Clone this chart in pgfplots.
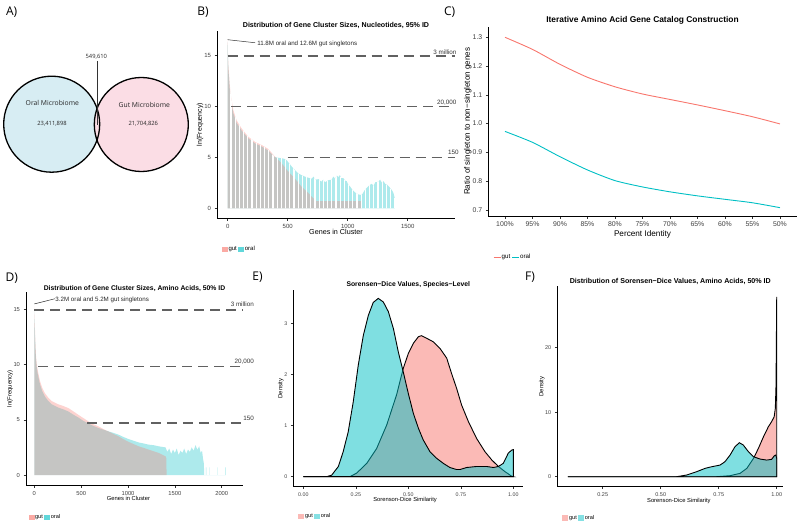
\documentclass[border=0pt]{standalone}
\usepackage{fontspec}
\setmainfont{Liberation Sans}
\newfontfamily\myriad{Open Sans}
\usepackage{pgfplots}
\pgfplotsset{compat=1.18}
\usetikzlibrary{patterns.meta}

\definecolor{gut}{HTML}{F8766D}
\definecolor{oral}{HTML}{00BFC4}
\definecolor{vennblue}{HTML}{D7EDF3}
\definecolor{vennpink}{HTML}{FBDDE5}
\newcommand{\fs}[1]{\fontsize{#1}{#1}\selectfont}

\tikzset{hlab/.style={anchor=base east, inner sep=0pt, font=\fs{6.3}, text=black!80}}
\pgfplotsset{
  panel/.style={
    scale only axis, anchor=south west,
    axis lines*=left,
    axis line style={line width=0.9pt},
    tick align=outside, major tick length=2.5pt,
    tick style={line width=0.6pt, black!80},
    ticklabel style={text=black!75},
    /pgf/number format/assume math mode=true,
    /pgf/number format/1000 sep={},
    title style={anchor=base, at={(0.5,1)}},
    legend style={draw=none, fill=none, inner sep=0pt, legend columns=2,
      /tikz/every even column/.append style={column sep=0.8pt},
      nodes={inner sep=0.6pt}, cells={anchor=west}},
    legend image code/.code={\fill[#1] (0pt,-2.6pt) rectangle (6pt,2.6pt);},
    clip=false,
  },
  hline/.style={black!62, line width=1.5pt, dash pattern=on 10pt off 6pt},
  bars/.style={draw=none, fill opacity=0.32, forget plot},
  dens/.style={draw=black, line width=0.9pt, fill opacity=0.5, forget plot},
}

\begin{document}
\begin{tikzpicture}
\useasboundingbox (0,0) rectangle (800pt,-527pt);

% panel letters
\begin{scope}[every node/.style={font=\myriad\fs{12}, inner sep=0pt}]
\node at (11.7pt,-11.7pt) {A)};
\node at (203pt,-12pt) {B)};
\node at (449.7pt,-12.5pt) {C)};
\node at (11.7pt,-278.3pt) {D)};
\node at (257.5pt,-277.5pt) {E)};
\node at (530pt,-277pt) {F)};
\end{scope}

% A) Venn diagram
\fill[vennblue] (51.7pt,-124.2pt) circle (48pt);
\fill[vennpink] (141.3pt,-124.5pt) circle (47pt);
\draw[line width=1.3pt] (51.7pt,-124.2pt) circle (48pt);
\draw[line width=1.3pt] (141.3pt,-124.5pt) circle (47pt);
\draw[line width=0.7pt, black!80] (97pt,-61pt) -- (97pt,-125pt);
\begin{scope}[every node/.style={font=\myriad, inner sep=0pt, text=black!85}]
\node[font=\myriad\fs{6.8}] at (52.3pt,-103.3pt) {Oral Microbiome};
\node[font=\myriad\fs{5.8}] at (52pt,-123.3pt) {23,411,898};
\node[font=\myriad\fs{6.8}] at (144.3pt,-105pt) {Gut Microbiome};
\node[font=\myriad\fs{5.8}] at (143.3pt,-123.3pt) {21,704,826};
\node[font=\myriad\fs{5.8}] at (96.3pt,-57pt) {549,610};
\end{scope}

% B) nucleotides 95% ID
\begin{axis}[panel, at={(217pt,-218pt)}, width=238pt, height=187pt,
  xmin=-89, xmax=1894, ymin=-0.95, ymax=17.35,
  xtick={0,500,1000,1500}, ytick={0,5,10,15},
  ticklabel style={font=\fs{6}},
  title={Distribution of Gene Cluster Sizes, Nucleotides, 95\% ID},
  title style={font=\fs{7.1}\bfseries, yshift=-2.3pt},
  xlabel={Genes in Cluster},
  xlabel style={at={(axis description cs:0.5,-0.0733)}, anchor=center, font=\fs{7.2}},
  ylabel={ln(Frequency)},
  ylabel style={at={(axis description cs:-0.0714,0.5)}, anchor=center, font=\fs{7}},
  legend style={at={(axis description cs:0.02,-0.167)}, anchor=west, font=\fs{6}},
]
\addplot[bars, fill=oral] coordinates {
 (0,0)(0,16.28)(3,14.6)(6,13.6)(11,12.8)(18,11.6)(28,10.5)(47,9.3)(75,8.35)
 (117,7.6)(172,6.85)(228,6.35)(283,6.05)(339,5.65)(367,5.3)(394,5.0)(420,4.95)
 (450,4.9)(470,4.85)(492,4.7)(512,4.4)(533,4.1)(560,3.75)(589,3.4)(615,3.25)
 (644,3.1)(670,3.0)(700,2.9)(715,3.1)(730,2.8)(756,2.85)(780,2.6)(795,2.8)(811,2.55)
 (840,2.75)(867,2.8)(880,3.1)(895,2.9)(910,3.2)(922,3.05)(935,3.25)(945,2.95)(964,2.95)
 (980,2.7)(992,2.65)(1005,2.3)(1019,2.15)(1040,1.8)(1061,1.55)(1090,1.35)(1117,1.3)
 (1140,1.75)(1158,2.0)(1180,2.25)(1200,2.4)(1215,2.2)(1230,2.55)(1256,2.6)(1270,2.8)
 (1285,2.5)(1300,2.65)(1311,2.4)(1330,2.3)(1353,2.0)(1370,1.75)(1381,1.5)(1392,1.0)(1394,0)
} \closedcycle;
\addplot[bars, fill=gut] coordinates {
 (0,0)(0,16.5)(3,15)(6,14)(11,13.2)(18,12)(28,10.9)(47,9.6)(75,8.6)(117,7.8)
 (172,7.0)(228,6.5)(283,6.2)(339,5.8)(394,5.05)(450,4.4)(505,3.6)(561,2.9)
 (617,2.1)(672,1.5)(728,0.8)(735,0.69)(1110,0.69)(1112,0)
} \closedcycle;
\addplot[draw=none, pattern={Lines[angle=90,distance=4.2pt,line width=1.1pt]},
  pattern color=white, fill opacity=0.42, forget plot] coordinates {
 (0,0)(0,16.5)(3,15)(6,14)(11,13.2)(18,12)(28,10.9)(47,9.6)(75,8.6)(117,7.8)
 (172,7.0)(228,6.5)(283,6.2)(339,5.8)(367,5.3)(394,5.05)(420,4.95)(450,4.9)(470,4.85)
 (492,4.7)(512,4.4)(533,4.1)(560,3.75)(589,3.4)(615,3.25)
 (644,3.1)(670,3.0)(700,2.9)(715,3.1)(730,2.8)(756,2.85)(780,2.6)(795,2.8)(811,2.55)
 (840,2.75)(867,2.8)(880,3.1)(895,2.9)(910,3.2)(922,3.05)(935,3.25)(945,2.95)(964,2.95)
 (980,2.7)(992,2.65)(1005,2.3)(1019,2.15)(1040,1.8)(1061,1.55)(1090,1.35)(1117,1.3)
 (1140,1.75)(1158,2.0)(1180,2.25)(1200,2.4)(1215,2.2)(1230,2.55)(1256,2.6)(1270,2.8)
 (1285,2.5)(1300,2.65)(1311,2.4)(1330,2.3)(1353,2.0)(1370,1.75)(1381,1.5)(1392,1.0)(1394,0)
} \closedcycle;
\addplot[hline, forget plot] coordinates {(0,14.9)(1894,14.9)};
\addplot[hline, forget plot] coordinates {(28,9.94)(1894,9.94)};
\addplot[hline, forget plot] coordinates {(500,4.96)(1894,4.96)};
\node[hlab, yshift=1.8pt] at (axis cs:1908,14.9) {3 million};
\node[hlab, yshift=2.3pt] at (axis cs:1908,9.94) {20,000};
\node[hlab, yshift=2.7pt] at (axis cs:1925,4.96) {150};
\draw[black!80, line width=0.5pt] (axis cs:0,16.5) -- (axis cs:228,16.2);
\node[anchor=west, inner sep=0pt, font=\fs{6.2}, text=black!85] at (axis cs:245,16.1) {11.8M oral and 12.6M gut singletons};
\addlegendimage{fill=gut!62!white, draw=none}
\addlegendentry{gut}
\addlegendimage{fill=oral!62!white, draw=none}
\addlegendentry{oral}
\end{axis}

% C) line chart
\begin{axis}[panel, at={(488.3pt,-216pt)}, width=308.4pt, height=189.3pt,
  xmin=-0.607, xmax=10.61, ymin=0.679, ymax=1.3368,
  xtick={0,...,10},
  xticklabels={100\%,95\%,90\%,85\%,80\%,75\%,70\%,65\%,60\%,55\%,50\%},
  ytick={0.7,0.8,0.9,1.0,1.1,1.2,1.3},
  yticklabel style={/pgf/number format/.cd, fixed, fixed zerofill, precision=1},
  ticklabel style={font=\fs{6.9}},
  title={Iterative Amino Acid Gene Catalog Construction},
  title style={font=\fs{8.4}\bfseries, yshift=-2pt},
  xlabel={Percent Identity},
  xlabel style={at={(axis description cs:0.5,-0.095)}, anchor=center, font=\fs{8.2}},
  ylabel={Ratio of singleton to non−singleton genes},
  ylabel style={at={(axis description cs:-0.0668,0.5)}, anchor=center, font=\fs{8}},
  legend style={at={(axis description cs:0.015,-0.2166)}, anchor=west, font=\fs{6.2}},
  legend image code/.code={\draw[#1] (0pt,0pt) -- (7pt,0pt);},
]
\addplot[gut, line width=0.9pt, smooth, tension=0.4, forget plot] coordinates {
 (0,1.300)(1,1.258)(2,1.206)(3,1.161)(4,1.128)(5,1.103)(6,1.084)(7,1.065)(8,1.045)(9,1.024)(10,0.999)};
\addplot[oral, line width=0.9pt, smooth, tension=0.4, forget plot] coordinates {
 (0,0.973)(1,0.935)(2,0.885)(3,0.839)(4,0.802)(5,0.780)(6,0.763)(7,0.749)(8,0.737)(9,0.725)(10,0.708)};
\addlegendimage{gut, line width=0.9pt}
\addlegendentry{gut}
\addlegendimage{oral, line width=0.9pt}
\addlegendentry{oral}
\end{axis}

% D) amino acids 50% ID
\begin{axis}[panel, at={(26pt,-485pt)}, width=217pt, height=193pt,
  xmin=-88.6, xmax=2227, ymin=-0.906, ymax=16.58,
  xtick={0,500,1000,1500,2000}, ytick={0,5,10,15},
  ticklabel style={font=\fs{5.8}},
  title={Distribution of Gene Cluster Sizes, Amino Acids, 50\% ID},
  title style={font=\fs{6.8}\bfseries, yshift=-4.5pt},
  xlabel={Genes in Cluster},
  xlabel style={at={(axis description cs:0.472,-0.072)}, anchor=center, font=\fs{5.8}},
  ylabel={ln(Frequency)},
  ylabel style={at={(axis description cs:-0.0737,0.5)}, anchor=center, font=\fs{6}},
  legend style={at={(axis description cs:0.0106,-0.169)}, anchor=west, font=\fs{5.6}},
]
\addplot[bars, fill=oral] coordinates {
 (0,0)(0,14.9)(3,13.8)(7,12.8)(12,11.6)(18,10.5)(27,9.7)(36,9.2)(61,8.2)(85,7.6)
 (114,7.1)(150,6.7)(186,6.4)(257,6.1)(310,5.95)(364,5.75)(420,5.45)(471,5.2)
 (525,4.9)(579,4.65)(630,4.45)(686,4.25)(740,4.1)(793,3.95)(850,3.8)(900,3.65)
 (950,3.45)(1007,3.25)(1060,3.1)(1114,2.95)(1170,2.85)(1221,2.75)(1275,2.7)
 (1328,2.6)(1400,2.5)(1420,2.1)(1440,2.4)(1460,1.9)(1480,2.3)(1500,2.0)(1520,2.4)
 (1540,1.8)(1560,2.2)(1580,2.0)(1600,2.4)(1620,1.9)(1640,2.3)(1660,2.1)(1680,2.5)
 (1700,2.2)(1720,2.7)(1740,2.3)(1760,2.6)(1775,2.0)(1790,2.2)(1800,1.5)(1810,1.0)
 (1812,0)(1830,0)(1830,0.69)(1836,0.69)(1836,0)(1870,0)(1870,0.69)(1874,0.69)
 (1874,0)(1950,0)(1950,0.69)(1954,0.69)(1954,0)(2040,0)(2040,0.69)(2044,0.69)(2044,0)
} \closedcycle;
\addplot[bars, fill=gut] coordinates {
 (0,0)(0,15.3)(3,14.2)(7,13.2)(12,12)(18,10.8)(27,10)(36,9.5)(61,8.5)(85,7.9)
 (114,7.4)(150,7.0)(186,6.7)(257,6.4)(310,6.25)(364,6.06)(420,5.75)(471,5.45)
 (525,5.15)(579,4.85)(630,4.6)(686,4.4)(740,4.15)(793,3.94)(850,3.7)(900,3.5)
 (950,3.25)(1007,3.0)(1060,2.8)(1114,2.6)(1170,2.45)(1221,2.3)(1275,2.15)
 (1328,2.0)(1400,1.7)(1410,1.5)(1411,0)
} \closedcycle;
\addplot[hline, forget plot] coordinates {(0,14.95)(2227,14.95)};
\addplot[hline, forget plot] coordinates {(43,9.85)(2227,9.85)};
\addplot[hline, forget plot] coordinates {(560,4.7)(2227,4.7)};
\node[hlab, yshift=3.9pt] at (axis cs:2345,14.95) {3 million};
\node[hlab, yshift=2.6pt] at (axis cs:2345,9.85) {20,000};
\node[hlab, yshift=2.6pt] at (axis cs:2345,4.7) {150};
\draw[black!80, line width=0.5pt] (axis cs:0,15.5) -- (axis cs:221,15.97);
\node[anchor=west, inner sep=0pt, font=\fs{6.2}, text=black!85] at (axis cs:224,15.9) {3.2M oral and 5.2M gut singletons};
\addlegendimage{fill=gut!62!white, draw=none}
\addlegendentry{gut}
\addlegendimage{fill=oral!62!white, draw=none}
\addlegendentry{oral}
\end{axis}

% E) species level densities
\begin{axis}[panel, at={(293.3pt,-486.7pt)}, width=230pt, height=196.7pt,
  xmin=-0.0476, xmax=1.0476, ymin=-0.196, ymax=3.654,
  xtick={0,0.25,0.5,0.75,1}, ytick={0,1,2,3},
  xticklabel style={/pgf/number format/.cd, fixed, fixed zerofill, precision=2},
  ticklabel style={font=\fs{5.3}},
  title={Sorensen−Dice Values, Species−Level},
  title style={font=\fs{6.8}\bfseries, yshift=-2.5pt},
  xlabel={Sorenson-Dice Similarity},
  xlabel style={at={(axis description cs:0.486,-0.068)}, anchor=center, font=\fs{5.8}},
  ylabel={Density},
  ylabel style={at={(axis description cs:-0.0548,0.5)}, anchor=center, font=\fs{6}},
  legend style={at={(axis description cs:0.0217,-0.1525)}, anchor=west, font=\fs{5.6}},
]
\addplot[dens, fill=gut] coordinates {
 (0,0)(0.222,0)(0.254,0.07)(0.302,0.26)(0.349,0.55)(0.397,1.01)(0.444,1.6)(0.476,2.12)
 (0.5,2.41)(0.524,2.61)(0.548,2.74)(0.563,2.76)(0.587,2.71)(0.619,2.64)(0.651,2.51)
 (0.683,2.32)(0.706,2.02)(0.73,1.73)(0.754,1.4)(0.786,1.08)(0.825,0.75)(0.865,0.49)
 (0.897,0.33)(0.929,0.2)(0.96,0.1)(0.992,0.01)(1,0)
} \closedcycle;
\addplot[dens, fill=oral] coordinates {
 (0,0)(0.111,0)(0.135,0.03)(0.167,0.2)(0.19,0.49)(0.214,0.88)(0.238,1.47)(0.262,2.19)
 (0.286,2.77)(0.31,3.16)(0.333,3.41)(0.357,3.49)(0.381,3.42)(0.405,3.23)(0.429,2.9)
 (0.452,2.45)(0.476,2.05)(0.5,1.63)(0.524,1.24)(0.548,0.95)(0.571,0.72)(0.603,0.49)
 (0.635,0.36)(0.667,0.26)(0.698,0.18)(0.73,0.14)(0.746,0.14)(0.778,0.18)(0.825,0.2)
 (0.873,0.2)(0.905,0.18)(0.929,0.2)(0.952,0.26)(0.976,0.46)(0.992,0.52)(1,0.53)(1,0)
} \closedcycle;
\addlegendimage{fill=gut!50!white, draw=none}
\addlegendentry{gut}
\addlegendimage{fill=oral!48!white, draw=none}
\addlegendentry{oral}
\end{axis}

% F) amino acids 50% ID densities
\begin{axis}[panel, at={(557.3pt,-486.7pt)}, width=226pt, height=200.7pt,
  xmin=0.0543, xmax=1.0284, ymin=-1.55, ymax=29.57,
  xtick={0.25,0.5,0.75,1}, ytick={0,10,20},
  xticklabel style={/pgf/number format/.cd, fixed, fixed zerofill, precision=2},
  ticklabel style={font=\fs{5.5}},
  title={Distribution of Sorensen−Dice Values, Amino Acids, 50\% ID},
  title style={font=\fs{7.1}\bfseries, yshift=-3.3pt},
  xlabel={Sorenson-Dice Similarity},
  xlabel style={at={(axis description cs:0.538,-0.0698)}, anchor=center, font=\fs{5.8}},
  ylabel={Density},
  ylabel style={at={(axis description cs:-0.069,0.5)}, anchor=center, font=\fs{6}},
  legend style={at={(axis description cs:0.022,-0.156)}, anchor=west, font=\fs{5.6}},
]
\addplot[dens, fill=gut] coordinates {
 (0.1,0)(0.741,0)(0.799,0.16)(0.842,0.52)(0.871,1.29)(0.9,2.84)(0.921,4.39)(0.943,6.2)
 (0.964,7.75)(0.978,8.53)(0.989,9.3)(0.994,10.6)(0.997,14.2)(1,27.9)(1,0)
} \closedcycle;
\addplot[dens, fill=oral] coordinates {
 (0.1,0)(0.569,0)(0.612,0.26)(0.655,0.78)(0.691,1.29)(0.72,1.55)(0.756,1.81)(0.777,2.33)
 (0.799,3.36)(0.82,4.65)(0.839,5.27)(0.856,4.91)(0.878,3.88)(0.9,3.1)(0.928,2.74)
 (0.957,2.58)(0.978,2.69)(0.99,3.26)(0.996,3.36)(1,2.84)(1,0)
} \closedcycle;
\addlegendimage{fill=gut!50!white, draw=none}
\addlegendentry{gut}
\addlegendimage{fill=oral!48!white, draw=none}
\addlegendentry{oral}
\end{axis}
\end{tikzpicture}
\end{document}
